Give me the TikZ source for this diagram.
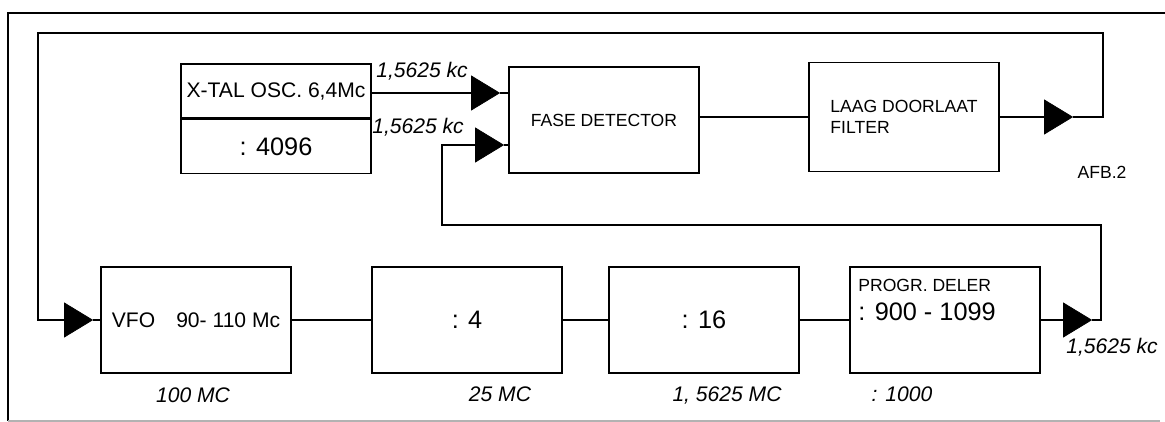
\documentclass[tikz,border=0pt]{standalone}
\usepackage{fontspec}
\setmainfont{Liberation Sans}
\usetikzlibrary{shapes.geometric,positioning,calc}

\begin{document}
\begin{tikzpicture}[
  x=0.02cm,y=-0.02cm,
  box/.style={draw,line width=0.9pt,minimum width=3.8cm,minimum height=2.12cm,align=center,inner sep=0pt},
  half/.style={draw,line width=0.9pt,minimum width=3.8cm,minimum height=1.08cm,inner sep=0pt},
  tri/.style={isosceles triangle,isosceles triangle stretches,fill=black,draw,inner sep=0pt,minimum width=0.68cm,minimum height=0.56cm},
  wire/.style={line width=0.9pt},
  freq/.style={font=\itshape\large}
]
\useasboundingbox (0,0) rectangle (1165,422);
% outer frame
\draw[line width=1pt] (1165,13) -- (8,13) -- (8,421);
\draw[gray!60,line width=1pt] (8,421) -- (1160,421);

% upper row
\node[half,font=\large] (xtal) at (276,91) {X-TAL OSC. 6,4Mc};
\node[half,anchor=north,font=\Large] (div4096) at (xtal.south) {: 4096};
\node[box] (fase) at (604,120) {FASE DETECTOR};
\node[box,align=left,minimum height=2.18cm] (filter) at (904,117) {LAAG DOORLAAT\\FILTER};

% lower row
\node[box,font=\large] (vfo) at (196,320) {VFO\quad 90- 110 Mc};
\node[box,font=\Large] (div4) at (467,320) {: 4};
\node[box,font=\Large] (div16) at (704,320) {: 16};
\node[box] (progr) at (945,320) {};
\node[anchor=west,align=left,inner sep=0pt] (progrtxt) at (858,300) {PROGR. DELER\\[4pt]{\Large : 900 - 1099}};

% triangles
\node[tri] (tria) at (481,93) {};
\node[tri] (trib) at (485,145) {};
\node[tri] (tric) at (1054,117) {};
\node[tri] (trid) at (1073,320) {};
\node[tri] (trie) at (74,320) {};

\coordinate (looptop) at (1103,33);
\coordinate (loopleft) at (38,320);
\coordinate (fbright) at (1101,225);
\coordinate (fbleft) at (442,145);

% connections
\draw[wire] (xtal.east |- tria) -- (tria);
\draw[wire] (tria) -- (fase.west |- tria);
\draw[wire] (trib) -- (fase.west |- trib);
\draw[wire] (fase.east |- filter) -- (filter.west);
\draw[wire] (filter.east) -- (tric);
\draw[wire] (tric.apex) -| (looptop) -| (loopleft) -- (trie);
\draw[wire] (trie) -- (vfo.west);
\draw[wire] (vfo) -- (div4);
\draw[wire] (div4) -- (div16);
\draw[wire] (div16) -- (progr);
\draw[wire] (progr) -- (trid);
\draw[wire] (trid.apex) -| (fbright) -| (fbleft) -- (trib);

% labels
\node[freq] (fa) at (422,71) {1,5625 kc};
\node[freq] (fb) at (418,127) {1,5625 kc};
\node (afb) at (1102,172) {AFB.2};
\node[freq] (f100) at (193,395) {100 MC};
\node[freq] (f25) at (500,394) {25 MC};
\node[freq] (f15) at (727,395) {1, 5625 MC};
\node[freq] (f1000) at (902,394) {: 1000};
\node[freq] (fd) at (1112,347) {1,5625 kc};
\end{tikzpicture}
\end{document}
